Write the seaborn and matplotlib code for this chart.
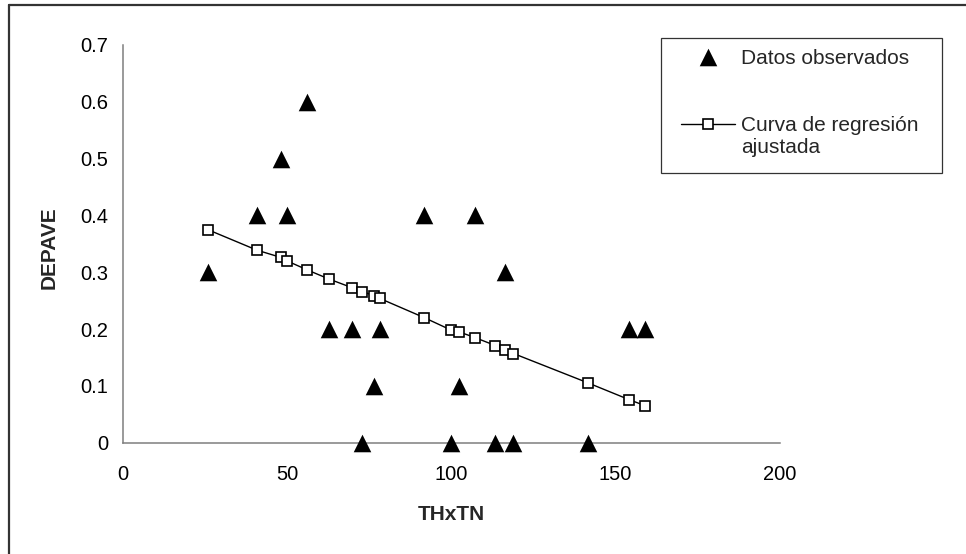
import matplotlib
matplotlib.use("Agg")
import matplotlib.pyplot as plt
from matplotlib.lines import Line2D
from matplotlib.patches import Rectangle
import seaborn as sns
import pandas as pd

# ---- data ----
thxtn = [25.9, 40.8, 48.2, 50.0, 56.2, 62.8, 69.7, 72.8, 76.4, 78.2,
         91.8, 100.0, 102.4, 107.2, 113.4, 116.4, 118.9, 141.7, 154.0, 159.0]
depave_obs = [0.3, 0.4, 0.5, 0.4, 0.6, 0.2, 0.2, 0.0, 0.1, 0.2,
              0.4, 0.0, 0.1, 0.4, 0.0, 0.3, 0.0, 0.0, 0.2, 0.2]
depave_fit = [0.375, 0.339, 0.326, 0.320, 0.304, 0.288, 0.273, 0.266, 0.259, 0.254,
              0.220, 0.198, 0.195, 0.185, 0.171, 0.164, 0.157, 0.105, 0.076, 0.065]
x_ticks = [0, 50, 100, 150, 200]
y_ticks = [0, 0.1, 0.2, 0.3, 0.4, 0.5, 0.6, 0.7]
y_tick_labels = ["0", "0.1", "0.2", "0.3", "0.4", "0.5", "0.6", "0.7"]
label_obs = "Datos observados"
label_fit = "Curva de regresión\najustada"

df = pd.DataFrame({"THxTN": thxtn, "obs": depave_obs, "fit": depave_fit})

sns.set_theme(style="white")
plt.rcParams["font.family"] = ["Liberation Sans", "DejaVu Sans"]

W, H = 966, 554
fig = plt.figure(figsize=(W / 100, H / 100), dpi=100)
ax = fig.add_axes([122.7 / W, 1 - 442.7 / H, (780 - 122.7) / W, (442.7 - 45) / H])

sns.scatterplot(data=df, x="THxTN", y="obs", marker="^", s=160, color="black",
                edgecolor="black", linewidth=0, ax=ax, label=label_obs, clip_on=False, zorder=3)
sns.lineplot(data=df, x="THxTN", y="fit", color="black", linewidth=1.0, marker="s",
             markersize=7, markerfacecolor="white", markeredgecolor="black",
             markeredgewidth=1.2, ax=ax, label=label_fit, zorder=4)

ax.set_xlim(0, 200)
ax.set_ylim(0, 0.7)
ax.set_xticks(x_ticks)
ax.set_yticks(y_ticks)
ax.set_yticklabels(y_tick_labels)

gray = "#7f7f7f"
for s in ["top", "right"]:
    ax.spines[s].set_visible(False)
for s in ["left", "bottom"]:
    ax.spines[s].set_color(gray)
    ax.spines[s].set_linewidth(1.1)
ax.tick_params(axis="both", direction="inout", length=8.5, width=0.9, color=gray,
               labelsize=14.5, labelcolor="black")
ax.tick_params(axis="x", pad=12)
ax.tick_params(axis="y", pad=6)
ax.grid(False)

ax.set_xlabel("THxTN", fontsize=15, fontweight="bold")
ax.set_ylabel("DEPAVE", fontsize=15, fontweight="bold")
ax.xaxis.set_label_coords(0.5, -(515 - 442.7) / 397.7)
ax.xaxis.label.set_va("center")
ax.yaxis.set_label_coords((49 - 122.7) / 657.3, 0.49)
ax.yaxis.label.set_va("center")

leg = ax.legend(loc="upper left", bbox_to_anchor=(681 / W, 1 - 47.5 / H),
                bbox_transform=fig.transFigure, borderaxespad=0, frameon=False,
                fontsize=15, handlelength=2.6, handletextpad=0.3, labelspacing=2.3,
                borderpad=0, handleheight=1.0)
# align the line handle with the first line of its two-line label
try:
    rows = leg._legend_handle_box.get_children()[0].get_children()
    rows[1].align = "top"
except Exception:
    pass

# legend frame
fig.add_artist(Rectangle((660.7 / W, 1 - 173.3 / H), (941.7 - 660.7) / W, (173.3 - 38.3) / H,
                         transform=fig.transFigure, fill=False, edgecolor="#333333",
                         linewidth=0.9))

# outer frame (left and top edges visible in reference)
fig.add_artist(Line2D([8.5 / W, 8.5 / W], [0, 1 - 5 / H], transform=fig.transFigure,
                      color="#333333", linewidth=1.6))
fig.add_artist(Line2D([8.5 / W, 1], [1 - 5 / H, 1 - 5 / H], transform=fig.transFigure,
                      color="#333333", linewidth=1.6))

fig.savefig("out.png", dpi=100)
